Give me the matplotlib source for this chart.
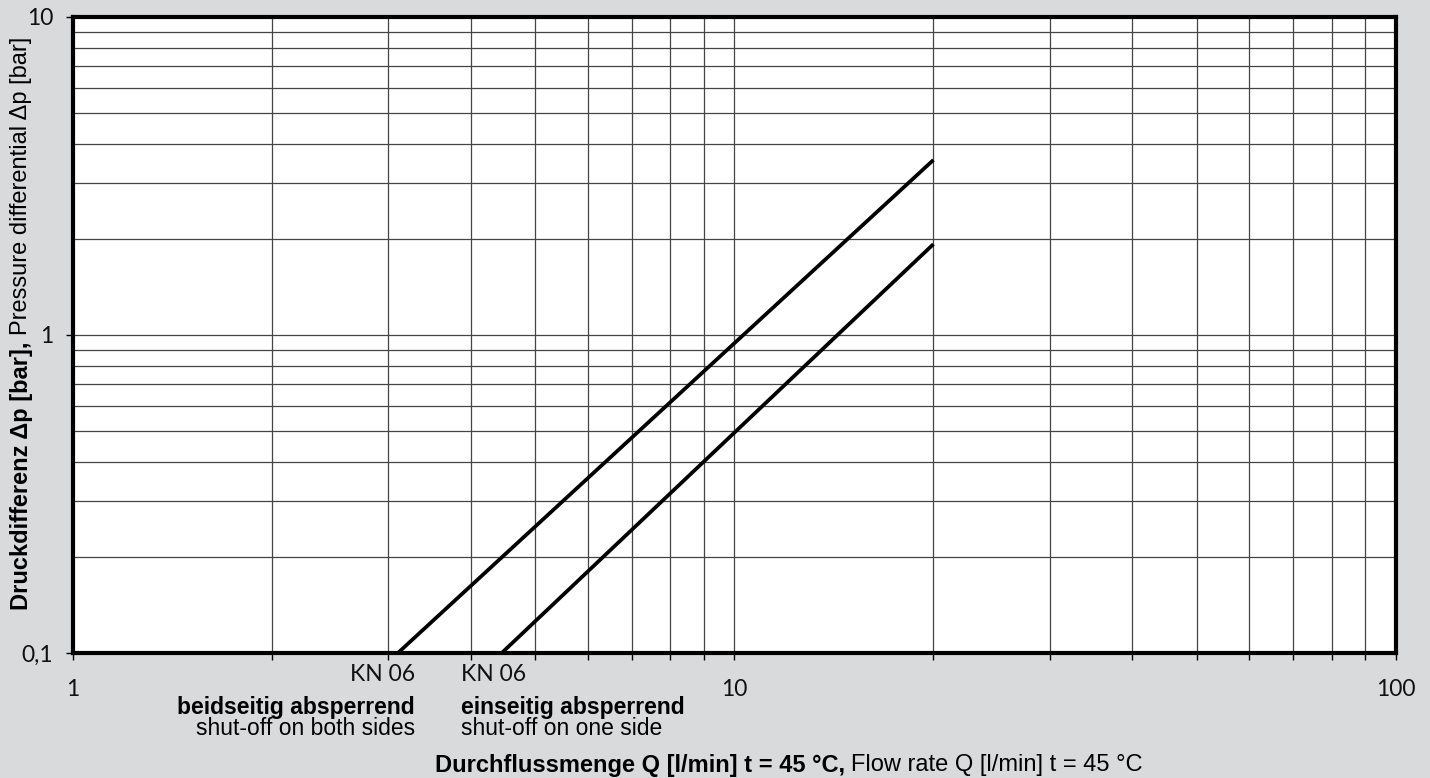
import matplotlib.pyplot as plt
from matplotlib.ticker import FixedLocator, LogLocator, NullFormatter

# flow rate Q [l/min] and pressure differential dp [bar]
q_both = [3.1, 20]
dp_both = [0.1, 3.55]
q_one = [4.45, 20]
dp_one = [0.1, 1.93]

x_ticks = [1, 10, 100]
x_tick_labels = ['1', '10', '100']
y_ticks = [0.1, 1, 10]
y_tick_labels = ['0,1', '1', '10']

bg = '#d9dadc'
tick_font = 'Lato'
text_font = 'Liberation Sans'

fig = plt.figure(figsize=(14.3, 7.78), dpi=100, facecolor=bg)
ax = fig.add_axes([0.051, 0.1607, 0.925, 0.8175])
ax.set_facecolor('white')

ax.set_xscale('log')
ax.set_yscale('log')
ax.set_xlim(1, 100)
ax.set_ylim(0.1, 10)

ax.plot(q_both, dp_both, color='black', lw=2.7, solid_capstyle='butt', zorder=3)
ax.plot(q_one, dp_one, color='black', lw=2.7, solid_capstyle='butt', zorder=3)

ax.xaxis.set_major_locator(FixedLocator(x_ticks))
ax.yaxis.set_major_locator(FixedLocator(y_ticks))
ax.set_xticklabels(x_tick_labels, fontfamily=tick_font, fontsize=16.5, color='#111111')
ax.set_yticklabels(y_tick_labels, fontfamily=tick_font, fontsize=16.5, color='#111111')
ax.xaxis.set_minor_locator(LogLocator(base=10, subs=range(2, 10)))
ax.yaxis.set_minor_locator(LogLocator(base=10, subs=range(2, 10)))
ax.xaxis.set_minor_formatter(NullFormatter())
ax.yaxis.set_minor_formatter(NullFormatter())

ax.tick_params(axis='x', which='major', direction='out', length=5, width=1, pad=14)
ax.tick_params(axis='y', which='major', direction='out', length=5, width=1, pad=9)
ax.tick_params(axis='x', which='minor', direction='out', length=5, width=1)
ax.tick_params(axis='y', which='minor', length=0)

ax.grid(True, which='both', color='#444444', lw=0.9, zorder=1)
ax.set_axisbelow(True)

for s in ax.spines.values():
    s.set_linewidth(3)
    s.set_zorder(4)

# labels under the curves
tr = ax.get_xaxis_transform()
xa, xb = 3.29, 3.86
ax.text(xa, -0.0345, 'KN 06', transform=tr, ha='right', va='center',
        fontfamily=tick_font, fontsize=16.5, color='#111111')
ax.text(xb, -0.0345, 'KN 06', transform=tr, ha='left', va='center',
        fontfamily=tick_font, fontsize=16.5, color='#111111')
ax.text(xa, -0.085, 'beidseitig absperrend', transform=tr, ha='right', va='center',
        fontfamily=text_font, fontsize=16.5, fontweight='bold')
ax.text(xa, -0.118, 'shut-off on both sides', transform=tr, ha='right', va='center',
        fontfamily=text_font, fontsize=16.5)
ax.text(xb, -0.085, 'einseitig absperrend', transform=tr, ha='left', va='center',
        fontfamily=text_font, fontsize=16.5, fontweight='bold')
ax.text(xb, -0.118, 'shut-off on one side', transform=tr, ha='left', va='center',
        fontfamily=text_font, fontsize=16.5)

# axis titles: bold part + regular part
xl_bold = 'Durchflussmenge Q [l/min] t = 45 °C, '
xl_reg = 'Flow rate Q [l/min] t = 45 °C'
yl_bold = 'Druckdifferenz Δp [bar], '
yl_reg = 'Pressure differential Δp [bar]'

fig.canvas.draw()
r = fig.canvas.get_renderer()
t1 = fig.text(0.304, 0.0167, xl_bold, fontfamily=text_font, fontsize=17,
              fontweight='bold', va='center')
t2 = fig.text(0, 0.0167, xl_reg, fontfamily=text_font, fontsize=17, va='center')
w1 = t1.get_window_extent(r).width / fig.bbox.width
t2.set_x(0.304 + w1)

u1 = fig.text(0.007, 0.2224, yl_bold, fontfamily=text_font, fontsize=17,
              fontweight='bold', rotation=90)
u2 = fig.text(0.007, 0, yl_reg, fontfamily=text_font, fontsize=17, rotation=90)
h1 = u1.get_window_extent(r).height / fig.bbox.height
u2.set_y(0.2224 + h1)

fig.savefig('out.png', dpi=100, facecolor=bg)
